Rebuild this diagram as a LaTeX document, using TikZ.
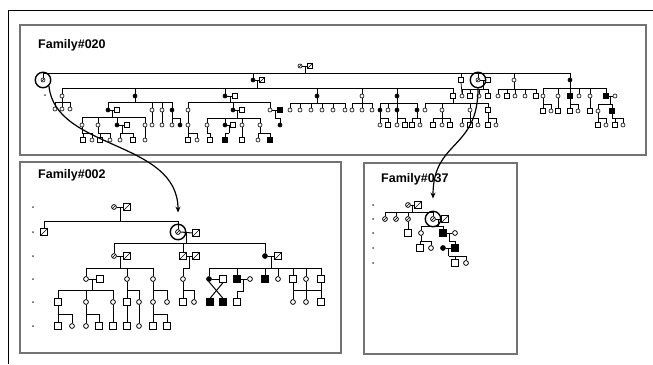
\documentclass[tikz,border=0pt]{standalone}
\usepackage{fontspec}
\setsansfont{Liberation Sans}
\usetikzlibrary{arrows.meta}

\tikzset{
  sym/.style={draw, fill=white, inner sep=0pt, line width=0.8pt},
  pm/.style={sym, rectangle, minimum size=6.5pt},
  pf/.style={sym, circle, minimum size=4.8pt},
  pma/.style={pm, fill=black},
  pfa/.style={pf, fill=black},
  dec/.style={path picture={\draw[line width=0.6pt] (path picture bounding box.south west) -- (path picture bounding box.north east);}},
  pmd/.style={pm, dec},
  pfd/.style={pf, dec},
  qm/.style={sym, rectangle, minimum size=4.5pt, line width=0.6pt},
  qf/.style={sym, circle, minimum size=4pt, line width=0.6pt},
  qma/.style={qm, fill=black},
  qfa/.style={qf, fill=black},
  qmd/.style={qm, dec},
  qfd/.style={qf, dec},
  ring/.style={draw, circle, minimum size=15.5pt, line width=1.4pt, inner sep=0pt},
  panel/.style={draw=black!55, line width=1.2pt},
  famlabel/.style={font=\sffamily\bfseries\fontsize{12.5}{13}\selectfont, anchor=base west, inner sep=0pt},
  genmark/.style={circle, fill=black!70, inner sep=0pt, minimum size=2pt},
  link/.style={-{Stealth[length=6pt,width=5pt]}, line width=1.2pt},
}

% couple: marriage line, midpoint kept as #3
\newcommand\couple[3]{\draw (#1.east) -- (#2.west) coordinate[midway] (#3);}
% kids: parent, sibship line y, row y, name prefix, list x/style
\newcommand\kids[5]{%
  \draw (#1) -- (#1 |- 0,#2);
  \foreach \x/\s [count=\i] in {#5} {
    \node[\s] (#4\i) at (\x,#3) {};
    \draw (#1 |- 0,#2) -- (#4\i |- 0,#2) -- (#4\i.north);
  }
}

\begin{document}
\begin{tikzpicture}[x=1pt, y=-1pt]
  \useasboundingbox (0,0) rectangle (653,364);
  \draw[line width=1pt] (8,364) -- (8,10) -- (653,10);

  % panels
  \draw[panel] (20,25) rectangle (646,155);
  \draw[panel] (20,162) rectangle (341,353);
  \draw[panel] (364,163) rectangle (517,354);
  \node[famlabel] (lab20) at (38,48) {Family\#020};
  \node[famlabel] (lab02) at (38,178) {Family\#002};
  \node[famlabel] (lab37) at (381,182) {Family\#037};

  % Family 020
  \begin{scope}[line width=0.7pt]
    \node[qfd] (p1) at (300,66) {};
    \node[qmd] (p2) at (310,66) {};
    \couple{p1}{p2}{cp}
    \kids{cp}{73}{80}{q}{43/qfd,253/qfa,461/qm,478/qfd,514/qf,570/qfa}
    \node[qmd] (q2s) at (262,80) {};
    \couple{q2}{q2s}{cq2}
    \node[qm] (q4s) at (488,80) {};
    \couple{q4}{q4s}{cq4}
    \node[ring] (q1r) at (q1) {};
    \node[ring] (q4r) at (q4) {};
    \node[genmark] (g20) at (45,95) {};

    \kids{cq2}{88}{96}{r}{62/qf,135/qfa,225/qfa,317/qfa,362/qf,397/qfa,453/qm}
    \node[qm] (r3s) at (235,96) {};
    \couple{r3}{r3s}{cr3}
    \kids{cq4}{89}{96}{rq}{462/qf,470/qm,479/qf,488/qm}
    \draw (q3.south) -- (rq1.north);
    \kids{q5.south}{89}{96}{rs}{498/qf,507/qm,515/qf,525/qf,536/qm}
    \kids{q6.south}{88}{96}{rt}{543/qf,558/qf,570/qma,579/qf,590/qf,606/qma}
    \node[qf] (rts) at (615,96) {};
    \couple{rt6}{rts}{crt}

    \kids{r1.south}{102}{109}{sa}{55/qf,62/qf,70/qf}
    \kids{r2.south}{102}{110}{sb}{108/qfa,152/qf,162/qf,172/qfa}
    \node[qm] (sbs) at (117,110) {};
    \couple{sb1}{sbs}{csb}
    \kids{cr3}{102}{110}{sc}{188/qf,233/qfa,270/qf}
    \node[qm] (scs1) at (242,110) {};
    \couple{sc2}{scs1}{csc2}
    \node[qma] (scs2) at (280,110) {};
    \couple{sc3}{scs2}{csc3}
    \kids{r4.south}{103}{110}{sd}{290/qf,300/qf,311/qf,322/qf,333/qf,345/qf}
    \kids{r5.south}{103}{110}{se}{352/qf,362/qf,372/qf}
    \kids{r6.south}{103}{110}{sf}{380/qfa,388/qf,397/qfa,417/qfa}
    \kids{r7.south}{103}{110}{sg}{425/qf,442/qf,470/qf,488/qm}
    \kids{rt1.south}{104}{111}{ta}{543/qm,551/qf}
    \kids{rt2.south}{104}{111}{tb}{558/qm}
    \kids{rt3.south}{104}{111}{tc}{570/qm,578/qf}
    \kids{rt5.south}{104}{111}{td}{590/qm}
    \kids{crt}{104}{111}{te}{598/qf,612/qma}

    \kids{csb}{117}{125}{ua}{82/qf,98/qf,117/qfa,145/qf}
    \node[qm] (uas) at (127,125) {};
    \couple{ua3}{uas}{cua}
    \kids{sb2.south}{118}{125}{ub}{152/qf}
    \kids{sb3.south}{118}{125}{uc}{162/qf}
    \kids{sb4.south}{118}{125}{ud}{172/qf,180/qfa}
    \kids{sc1.south}{118}{125}{ug}{188/qf}
    \kids{csc2}{118}{125}{ue}{207/qf,225/qfa,242/qf,260/qf}
    \node[qm] (ues) at (233,125) {};
    \couple{ue2}{ues}{cue}
    \kids{csc3}{118}{125}{uf}{280/qfa}
    \kids{sf1.south}{118}{125}{uh}{380/qf,388/qm}
    \kids{sf3.south}{118}{125}{ui}{397/qf,405/qm}
    \kids{sf4.south}{118}{125}{uj}{412/qm,420/qf}
    \kids{sg2.south}{118}{125}{uk}{433/qm,442/qf,450/qm}
    \kids{sg3.south}{118}{125}{ul}{462/qf,470/qm,478/qf}
    \kids{sg4.south}{118}{125}{um}{488/qm,496/qf}
    \kids{te1.south}{118}{125}{un}{598/qm,606/qf}
    \kids{te2.south}{118}{125}{uo}{615/qm,623/qf}

    \kids{ua1.south}{133}{140}{va}{83/qm,92/qf}
    \kids{ua2.south}{133}{140}{vb}{100/qm,110/qf}
    \kids{cua}{133}{140}{vc}{120/qf,133/qm}
    \kids{ua4.south}{133}{140}{vd}{145/qf}
    \kids{ug1.south}{133}{140}{ve}{188/qm,197/qf}
    \kids{ue1.south}{133}{140}{vf}{210/qm}
    \kids{cue}{133}{140}{vg}{225/qma}
    \kids{ue3.south}{133}{140}{vh}{242/qm}
    \kids{ue4.south}{133}{140}{vi}{258/qf,270/qma}
  \end{scope}

  % Family 002
  \begin{scope}[line width=1pt]
    \foreach \y in {207,232,256,279,302,326}
      \node[genmark] (g02\y) at (33,\y) {};
    \node[pfd] (a1) at (114,207) {};
    \node[pmd] (a2) at (127,207) {};
    \couple{a1}{a2}{ca}
    \kids{ca}{221}{232}{b}{44/pmd,178/pfd}
    \node[ring] (b2r) at (b2) {};
    \node[pmd] (b2s) at (196,233) {};
    \couple{b2}{b2s}{cb}

    \kids{cb}{243}{256}{c}{114/pfd,183/pmd,265/pfa}
    \node[pmd] (cs1) at (127,256) {};
    \couple{c1}{cs1}{cc1}
    \node[pmd] (cs2) at (196,256) {};
    \couple{c2}{cs2}{cc2}
    \node[pmd] (cs3) at (278,256) {};
    \couple{c3}{cs3}{cc3}

    \kids{cc1}{268}{279}{d}{86/pf,127/pf,153/pf}
    \node[pm] (ds) at (100,279) {};
    \couple{d1}{ds}{cd1}
    \kids{cc2}{268}{279}{dd}{183/pf}
    \kids{cc3}{268}{279}{dk}{209/pfa,237/pma,265/pma,278/pf,293/pm,306/pf,321/pm}
    \node[pm] (dks1) at (223,279) {};
    \couple{dk1}{dks1}{cdk1}
    \node[pf] (dks2) at (250,279) {};
    \couple{dk2}{dks2}{cdk2}

    \kids{cd1}{290}{302}{e}{58/pm,86/pf,113/pf}
    \kids{d2.south}{290}{302}{ef}{127/pm,139/pf}
    \kids{d3.south}{290}{302}{eg}{153/pf,167/pf}
    \kids{dd1.south}{290}{302}{eh}{183/pm,194/pf}
    \node[pma] (ex1) at (210,302) {};
    \node[pma] (ex2) at (223,302) {};
    \draw (dk1.south) -- (ex2.north);
    \draw (dks1.south) -- (ex1.north);
    \kids{cdk2}{291}{302}{ei}{237/pm}
    \kids{dk6.south}{290}{302}{ej}{293/pf,306/pf,321/pm}
    \draw (dk5.south) -- (ej1.north);
    \draw (dk7.south) -- (ej3.north);

    \kids{e1.south}{314}{326}{f}{58/pm,72/pf}
    \kids{e2.south}{314}{326}{fb}{86/pf,99/pm}
    \kids{e3.south}{314}{326}{fc}{113/pm}
    \kids{ef1.south}{314}{326}{fd}{127/pm}
    \kids{ef2.south}{314}{326}{fe}{139/pf}
    \kids{eg1.south}{314}{326}{ff}{153/pm,167/pm}
  \end{scope}

  % Family 037
  \begin{scope}[line width=0.9pt]
    \foreach \y in {205,219,233,248,263}
      \node[genmark] (g37\y) at (373,\y) {};
    \node[pfd] (g1) at (408,205) {};
    \node[pmd] (g2) at (418,205) {};
    \couple{g1}{g2}{cg}
    \kids{cg}{212}{219}{h}{385/pfd,396/pfd,408/pfd,433/pfd}
    \node[ring] (h4r) at (h4) {};
    \node[pmd] (h4s) at (445,219) {};
    \couple{h4}{h4s}{ch}
    \kids{h3.south}{226}{233}{i}{408/pm}
    \kids{ch}{226}{233}{ib}{421/pf,443/pma}
    \node[pf] (ibs) at (455,233) {};
    \couple{ib2}{ibs}{cib}
    \kids{ib1.south}{241}{248}{j}{420/pm,431/pf}
    \kids{cib}{241}{248}{jb}{455/pma}
    \node[pfa] (jbs) at (443,248) {};
    \couple{jbs}{jb1}{cjb}
    \kids{cjb}{256}{263}{k}{455/pm,466/pf}
  \end{scope}

  % links between families
  \draw[link, shorten >=11pt] (q1r.south east) .. controls (55,150) and (178,140) .. (b2r.north);
  \draw[link, shorten >=12pt] (q4r.south) .. controls (478,150) and (433,140) .. (h4r.north);
\end{tikzpicture}
\end{document}
